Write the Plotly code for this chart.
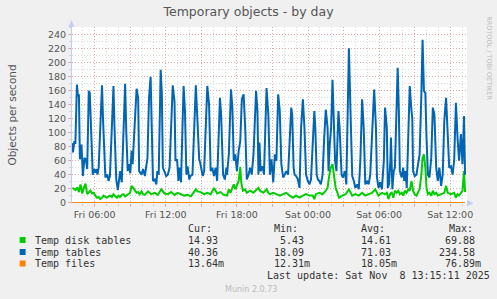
import pandas as pd
import plotly.graph_objects as go

# ---------------- data (minutes after Fri 2025-11-07 04:00) ----------------
START = pd.Timestamp("2025-11-07 04:00")

tables_min = [5, 10, 17, 22, 30, 35, 40, 45, 53, 60, 68, 75, 82, 90, 95, 107, 110, 117, 124, 130,
              134, 140, 157, 162, 174, 184, 190, 197, 215, 220, 229, 237, 249, 257, 274, 280, 287, 294, 300, 307,
              312, 332, 340, 345, 357, 365, 374, 387, 395, 403, 408, 415, 424, 432, 437, 444, 454, 460, 465, 474,
              482, 490, 499, 515, 524, 529, 537, 544, 549, 557, 570, 577, 584, 590, 599, 604, 615, 632, 640, 649,
              654, 660, 667, 674, 690, 699, 707, 715, 724, 732, 740, 754, 760, 770, 779, 787, 790, 799, 810, 817,
              824, 832, 840, 849, 857, 865, 874, 882, 890, 899, 907, 915, 924, 937, 944, 949, 954, 960, 970, 977,
              990, 999, 1007, 1015, 1024, 1032, 1040, 1049, 1057, 1065, 1074, 1082, 1090, 1099, 1115, 1120, 1127, 1132, 1140, 1149,
              1157, 1165, 1174, 1182, 1190, 1199, 1207, 1215, 1224, 1232, 1237, 1244, 1250, 1257, 1265, 1274, 1282, 1290, 1299, 1304,
              1310, 1317, 1324, 1332, 1337, 1344, 1354, 1360, 1370, 1377, 1387, 1394, 1400, 1407, 1415, 1424, 1432, 1440, 1449, 1457,
              1465, 1474, 1482, 1490, 1499, 1507, 1515, 1524, 1535, 1544, 1549, 1557, 1565, 1574, 1584, 1590, 1599, 1604, 1610, 1617,
              1620, 1627, 1634, 1640, 1649, 1654, 1660, 1665, 1674, 1682, 1687, 1694, 1700, 1707, 1715, 1724, 1728, 1732, 1740, 1749,
              1757, 1765, 1774, 1780, 1787, 1794, 1800, 1807, 1815, 1824, 1832, 1840, 1849, 1857, 1865, 1874, 1882, 1890, 1899, 1907,
              1915, 1924, 1932, 1940, 1949, 1957, 1965, 1974, 1982, 1990, 1995]
tables_val = [85, 72, 88, 84, 169, 152, 155, 62, 83, 38, 64, 62, 48, 160, 157, 50, 40, 48, 43, 48,
              40, 50, 168, 120, 36, 40, 31, 38, 167, 110, 33, 18, 45, 29, 170, 100, 45, 55, 42, 74,
              55, 163, 150, 45, 40, 48, 38, 64, 150, 180, 107, 31, 33, 26, 45, 40, 190, 155, 50, 43,
              38, 40, 50, 168, 145, 60, 62, 31, 50, 29, 167, 131, 40, 52, 33, 38, 40, 168, 121, 62,
              57, 50, 38, 45, 167, 140, 45, 50, 38, 50, 31, 150, 126, 40, 33, 50, 40, 69, 162, 136,
              60, 69, 45, 74, 88, 148, 155, 107, 33, 40, 50, 40, 69, 160, 131, 40, 86, 45, 52, 40,
              164, 126, 40, 62, 29, 69, 60, 155, 131, 55, 36, 40, 45, 40, 136, 126, 50, 40, 38, 33,
              21, 107, 148, 107, 40, 31, 26, 33, 93, 131, 107, 40, 33, 31, 26, 40, 93, 133, 107, 45,
              83, 107, 176, 107, 60, 45, 131, 107, 40, 36, 45, 26, 107, 221, 131, 38, 31, 21, 26, 19,
              60, 148, 107, 26, 31, 26, 40, 102, 162, 107, 36, 21, 29, 19, 60, 136, 107, 21, 26, 60,
              93, 19, 45, 50, 140, 193, 131, 45, 36, 50, 31, 45, 21, 107, 167, 131, 121, 45, 38, 40,
              52, 69, 155, 233, 160, 157, 93, 40, 36, 64, 136, 126, 50, 31, 50, 24, 40, 117, 150, 107,
              50, 52, 40, 60, 143, 93, 60, 98, 55, 124, 40]

disk_min = [7, 15, 23, 32, 40, 48, 57, 65, 73, 82, 90, 98, 107, 115, 123, 132, 140, 148, 157, 165,
            174, 182, 190, 198, 207, 215, 224, 232, 240, 248, 257, 265, 274, 282, 290, 299, 307, 315, 324, 332,
            340, 348, 357, 365, 374, 382, 390, 407, 424, 440, 457, 474, 490, 507, 524, 540, 557, 574, 590, 607,
            632, 640, 657, 674, 690, 707, 724, 740, 757, 774, 790, 799, 807, 815, 824, 832, 840, 849, 857, 862,
            870, 882, 890, 907, 924, 940, 949, 957, 974, 990, 999, 1007, 1024, 1040, 1057, 1074, 1090, 1107, 1124, 1140,
            1157, 1174, 1190, 1207, 1224, 1232, 1240, 1257, 1274, 1290, 1299, 1307, 1315, 1324, 1332, 1340, 1349, 1357, 1374, 1390,
            1407, 1415, 1424, 1440, 1457, 1474, 1490, 1507, 1524, 1540, 1549, 1557, 1574, 1590, 1599, 1607, 1615, 1624, 1632, 1640,
            1649, 1657, 1665, 1674, 1682, 1690, 1699, 1707, 1715, 1724, 1732, 1740, 1749, 1757, 1765, 1774, 1780, 1787, 1794, 1800,
            1807, 1815, 1824, 1832, 1840, 1849, 1857, 1874, 1890, 1899, 1907, 1924, 1940, 1949, 1957, 1965, 1974, 1982, 1990, 1995]
disk_val = [21, 20, 18, 22, 15, 26, 13, 21, 27, 12, 14, 17, 13, 14, 10, 7, 8, 5, 7, 10,
            8, 7, 9, 10, 8, 12, 9, 7, 10, 8, 11, 12, 9, 10, 12, 14, 24, 21, 17, 14,
            15, 12, 16, 12, 11, 14, 16, 12, 14, 11, 19, 13, 12, 15, 11, 14, 12, 10, 11, 9,
            19, 16, 15, 12, 14, 12, 21, 13, 15, 11, 10, 19, 14, 21, 26, 19, 26, 31, 51, 29,
            17, 19, 14, 17, 14, 19, 21, 17, 14, 19, 14, 12, 14, 12, 10, 12, 14, 10, 7, 10,
            7, 10, 12, 10, 10, 5, 12, 14, 12, 17, 21, 38, 50, 55, 40, 21, 14, 7, 10, 12,
            19, 14, 10, 12, 10, 14, 10, 12, 14, 19, 14, 10, 14, 12, 14, 5, 12, 14, 7, 17,
            14, 17, 12, 14, 10, 17, 14, 19, 17, 31, 17, 12, 10, 14, 19, 40, 64, 69, 50, 21,
            12, 14, 10, 17, 12, 14, 10, 12, 14, 24, 14, 12, 14, 7, 12, 10, 14, 17, 45, 15]

files_min = [5, 1995]
files_val = [0.01231, 0.01364]

series_names = ["Temp disk tables", "Temp tables", "Temp files"]
series_colors = ["#00CC00", "#0066B3", "#FF8000"]
cur_txt = ["14.93", "40.36", "13.64m"]
min_txt = [" 5.43", "18.09", "12.31m"]
avg_txt = ["14.61", "71.03", "18.05m"]
max_txt = [" 69.88", "234.58", " 76.89m"]

x_tick_times = ["2025-11-07 06:00", "2025-11-07 09:00", "2025-11-07 12:00", "2025-11-07 15:00",
                "2025-11-07 18:00", "2025-11-07 21:00", "2025-11-08 00:00", "2025-11-08 03:00",
                "2025-11-08 06:00", "2025-11-08 09:00", "2025-11-08 12:00"]
x_tick_text = ["Fri 06:00", "", "Fri 12:00", "", "Fri 18:00", "", "Sat 00:00", "", "Sat 06:00", "", "Sat 12:00"]
y_ticks = list(range(0, 241, 20))

# ---------------- figure ----------------
W, H = 497, 299
L, R, T, B = 67, 467, 27, 203


def px(x):
    return (x - L) / (R - L)


def py(y):
    return (B - y) / (B - T)


def ds(minutes):
    return (START + pd.Timedelta(minutes=minutes)).strftime("%Y-%m-%d %H:%M:%S")


def ts(mins):
    return [ds(m) for m in mins]


fig = go.Figure()
fig.add_trace(go.Scatter(x=ts(disk_min), y=disk_val, mode="lines",
                         line=dict(color=series_colors[0], width=2), hoverinfo="skip"))
fig.add_trace(go.Scatter(x=ts(tables_min), y=tables_val, mode="lines",
                         line=dict(color=series_colors[1], width=2), hoverinfo="skip"))
fig.add_trace(go.Scatter(x=ts(files_min), y=files_val, mode="lines",
                         line=dict(color=series_colors[2], width=1), hoverinfo="skip"))

major_grid = "rgba(230,120,120,0.5)"
minor_grid = "rgba(170,170,170,0.45)"

fig.update_layout(
    width=W, height=H,
    margin=dict(l=L, r=W - R, t=T, b=H - B, pad=0),
    paper_bgcolor="#F0F0F0", plot_bgcolor="#FFFFFF",
    showlegend=False,
    font=dict(family="DejaVu Sans", color="#555555"),
    title=dict(text="Temporary objects - by day", x=0.5, xref="container", xanchor="center",
               y=1 - 11.5 / H, yref="container", yanchor="middle",
               font=dict(family="DejaVu Sans", size=12.5, color="#555555")),
    xaxis=dict(
        type="date",
        range=[ds(5), ds(2005)],
        tickmode="array",
        tickvals=x_tick_times,
        ticktext=x_tick_text,
        showgrid=True, gridcolor=major_grid, griddash="1px,2px", gridwidth=1,
        ticks="outside", ticklen=3, tickcolor=major_grid,
        tickfont=dict(size=9.5, color="#555555"),
        minor=dict(tickmode="linear", tick0=ds(0), dtick=3600000, showgrid=True,
                   gridcolor=minor_grid, griddash="1px,2px", ticks="outside", ticklen=2,
                   tickcolor=minor_grid),
        zeroline=False, showline=False, fixedrange=True,
    ),
    yaxis=dict(
        range=[-0.6, 251.4],
        tickmode="array", tickvals=y_ticks, ticktext=[str(v) for v in y_ticks],
        showgrid=True, gridcolor=major_grid, griddash="1px,2px", gridwidth=1,
        ticks="outside", ticklen=3, tickcolor=major_grid,
        tickfont=dict(size=9.5, color="#555555"),
        minor=dict(tickmode="linear", tick0=0, dtick=10, showgrid=True,
                   gridcolor=minor_grid, griddash="1px,2px", ticks="outside", ticklen=2,
                   tickcolor=minor_grid),
        title=dict(text="Objects per second", standoff=29,
                   font=dict(family="DejaVu Sans", size=10.5, color="#555555")),
        zeroline=False, showline=False, fixedrange=True,
    ),
)

shapes = []
axis_col = "#C4CCF4"
# left axis with arrow
shapes.append(dict(type="line", xref="paper", yref="paper", x0=px(66.5), x1=px(66.5),
                   y0=py(203.5), y1=py(24), line=dict(color=axis_col, width=1)))
shapes.append(dict(type="path", xref="paper", yref="paper",
                   path=f"M {px(63.5)} {py(27)} L {px(69.5)} {py(27)} L {px(66.5)} {py(20)} Z",
                   fillcolor=axis_col, line=dict(width=0)))
# bottom axis arrow
shapes.append(dict(type="path", xref="paper", yref="paper",
                   path=f"M {px(467)} {py(200)} L {px(467)} {py(206.5)} L {px(473.5)} {py(203.2)} Z",
                   fillcolor=axis_col, line=dict(width=0)))

annotations = []
mono = "DejaVu Sans Mono"
txtcol = "#333333"


def ann(x, y, text, size=10, color=txtcol, family=mono, xanchor="left", angle=0):
    annotations.append(dict(xref="paper", yref="paper", x=px(x), y=py(y), text=text,
                            showarrow=False, xanchor=xanchor, yanchor="middle",
                            textangle=angle, font=dict(family=family, size=size, color=color)))


col_x = [182, 270, 358, 437]
ann(182, 228, "Cur:")
ann(270, 228, "Min:")
ann(358, 228, "Avg:")
ann(447, 228, "Max:")
row_y = [240, 252, 263.5]
for i, name in enumerate(series_names):
    yy = row_y[i]
    shapes.append(dict(type="rect", xref="paper", yref="paper",
                       x0=px(14), x1=px(20), y0=py(yy + 3), y1=py(yy - 3),
                       fillcolor=series_colors[i], line=dict(width=0)))
    ann(27, yy, name)
    ann(col_x[0], yy, cur_txt[i])
    ann(col_x[1], yy, min_txt[i])
    ann(col_x[2], yy, avg_txt[i])
    ann(col_x[3], yy, max_txt[i])
ann(262, 275.5, "Last update: Sat Nov  8 13:15:11 2025")
ann(248, 289, "Munin 2.0.73", size=8, color="#BBBBBB", family="DejaVu Sans", xanchor="center")
ann(489, 58, "RRDTOOL / TOBI OETIKER", size=6.5, color="#BBBBBB", family="DejaVu Sans",
    xanchor="center", angle=90)

fig.update_layout(shapes=shapes, annotations=annotations)
fig.write_html("out.html")
